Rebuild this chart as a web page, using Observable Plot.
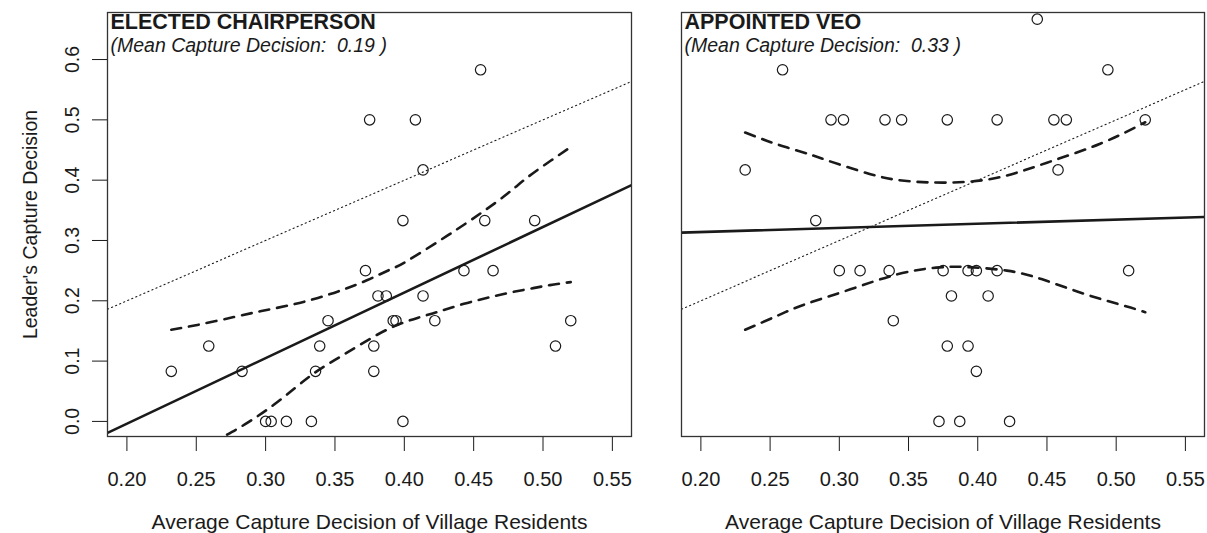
<!DOCTYPE html>
<html>
<head>
<meta charset="utf-8">
<script src="https://cdn.jsdelivr.net/npm/d3@7"></script>
<script src="https://cdn.jsdelivr.net/npm/@observablehq/plot@0.6"></script>
<style>
  html, body { margin: 0; padding: 0; background: white; }
  #wrap { display: flex; flex-direction: row; width: 1207px; height: 533px; }
</style>
</head>
<body>
<div id="wrap"></div>
<script>
// ---- tick labels ----
const xTicks = [0.20, 0.25, 0.30, 0.35, 0.40, 0.45, 0.50, 0.55];
const yTicks = [0.0, 0.1, 0.2, 0.3, 0.4, 0.5, 0.6];

// ---- panel titles ----
const titles = ["ELECTED CHAIRPERSON", "APPOINTED VEO"];
const meanLabels = ["0.19", "0.33"];

// ---- Elected chairperson: points ----
const chairX = [0.232, 0.259, 0.283, 0.300, 0.304, 0.315, 0.333, 0.336, 0.339, 0.345, 0.372, 0.375, 0.378, 0.378, 0.381, 0.387, 0.392, 0.394, 0.399, 0.399, 0.408, 0.4135, 0.4135, 0.422, 0.443, 0.455, 0.458, 0.464, 0.494, 0.509, 0.520];
const chairY = [0.083, 0.125, 0.083, 0.000, 0.000, 0.000, 0.000, 0.083, 0.125, 0.167, 0.250, 0.500, 0.125, 0.083, 0.208, 0.208, 0.167, 0.167, 0.333, 0.000, 0.500, 0.417, 0.208, 0.167, 0.250, 0.583, 0.333, 0.250, 0.333, 0.125, 0.167];

// fitted line (read at the frame edges)
const chairFitX = [0.186, 0.564];
const chairFitY = [-0.019, 0.392];
// confidence bands
const chairUpX = [0.232, 0.253, 0.277, 0.297, 0.316, 0.335, 0.354, 0.373, 0.390, 0.402, 0.431, 0.455, 0.474, 0.489, 0.506, 0.520];
const chairUpY = [0.152, 0.161, 0.173, 0.183, 0.192, 0.203, 0.217, 0.234, 0.252, 0.266, 0.308, 0.345, 0.377, 0.405, 0.433, 0.455];
const chairLoX = [0.262, 0.270, 0.285, 0.309, 0.332, 0.350, 0.368, 0.390, 0.410, 0.426, 0.443, 0.460, 0.477, 0.493, 0.505, 0.520];
const chairLoY = [-0.040, -0.025, -0.005, 0.033, 0.075, 0.102, 0.127, 0.155, 0.172, 0.183, 0.195, 0.205, 0.214, 0.221, 0.226, 0.231];

// ---- Appointed VEO: points ----
const veoX = [0.232, 0.259, 0.283, 0.294, 0.303, 0.300, 0.315, 0.333, 0.336, 0.339, 0.345, 0.372, 0.375, 0.378, 0.378, 0.381, 0.387, 0.393, 0.393, 0.399, 0.399, 0.4075, 0.414, 0.414, 0.423, 0.443, 0.455, 0.458, 0.464, 0.494, 0.509, 0.521];
const veoY = [0.417, 0.583, 0.333, 0.500, 0.500, 0.250, 0.250, 0.500, 0.250, 0.167, 0.500, 0.000, 0.250, 0.500, 0.125, 0.208, 0.000, 0.250, 0.125, 0.250, 0.083, 0.208, 0.500, 0.250, 0.000, 0.667, 0.500, 0.417, 0.500, 0.583, 0.250, 0.500];

const veoFitX = [0.186, 0.564];
const veoFitY = [0.313, 0.339];
const veoUpX = [0.232, 0.248, 0.2625, 0.277, 0.291, 0.3225, 0.347, 0.378, 0.414, 0.450, 0.488, 0.521];
const veoUpY = [0.479, 0.465, 0.454, 0.444, 0.433, 0.410, 0.399, 0.396, 0.404, 0.429, 0.460, 0.496];
const veoLoX = [0.232, 0.255, 0.275, 0.308, 0.342, 0.370, 0.392, 0.421, 0.446, 0.479, 0.507, 0.521];
const veoLoY = [0.152, 0.175, 0.194, 0.219, 0.244, 0.255, 0.256, 0.250, 0.236, 0.210, 0.191, 0.181];

// 45-degree reference line
const diagX = [0.186, 0.564];
const diagY = [0.186, 0.564];

const xDomain = [0.186, 0.5638];
const yDomain = [-0.025, 0.678];
const FONT = "'Liberation Sans', Arial, Helvetica, sans-serif";
const INK = "#1a1a1a";

const zip = (xs, ys) => xs.map((x, i) => ({x, y: ys[i]}));

function panel({width, marginLeft, marginRight, title, mean, px, py, fitX, fitY, upX, upY, loX, loY, showY}) {
  const marks = [
    Plot.line(zip(diagX, diagY), {x: "x", y: "y", stroke: INK, strokeWidth: 1.1, strokeDasharray: "1.2,3.2", clip: true}),
    Plot.line(zip(fitX, fitY), {x: "x", y: "y", stroke: INK, strokeWidth: 2.6, clip: true}),
    Plot.line(zip(upX, upY), {x: "x", y: "y", stroke: INK, strokeWidth: 2.6, strokeDasharray: "10,8", curve: "natural", clip: true}),
    Plot.line(zip(loX, loY), {x: "x", y: "y", stroke: INK, strokeWidth: 2.6, strokeDasharray: "10,8", curve: "natural", clip: true}),
    Plot.dot(zip(px, py), {x: "x", y: "y", r: 5.2, stroke: INK, strokeWidth: 1.2, fill: "none"}),
    Plot.axisX(xTicks, {tickFormat: d => d.toFixed(2), tickSize: 15, tickPadding: 20, fontSize: 20, label: null, stroke: INK, fill: INK}),
    Plot.text([title], {frameAnchor: "top-left", dx: 3, dy: 1.5, lineAnchor: "top", textAnchor: "start", fontWeight: "bold", fontSize: 21.5, fill: INK}),
    Plot.text(["(Mean Capture Decision:\u00a0 " + mean + " )"], {frameAnchor: "top-left", dx: 3, dy: 25.5, lineAnchor: "top", textAnchor: "start", fontStyle: "italic", fontSize: 19.5, fill: INK}),
    Plot.text(["Average Capture Decision of Village Residents"], {frameAnchor: "bottom", dy: 92, fontSize: 21, textAnchor: "middle", fill: INK}),
    Plot.frame({stroke: "#333", strokeWidth: 1.3})
  ];
  if (showY) {
    marks.push(
      Plot.axisY(yTicks, {tickSize: 15, tickFormat: () => "", label: null, stroke: INK}),
      Plot.text(yTicks, {y: d => d, text: d => d.toFixed(1), frameAnchor: "left", dx: -35, rotate: -90, textAnchor: "middle", fontSize: 19.5, fill: INK}),
      Plot.text(["Leader's Capture Decision"], {frameAnchor: "left", dx: -77, rotate: -90, textAnchor: "middle", fontSize: 19.5, fill: INK})
    );
  }
  return Plot.plot({
    width, height: 533,
    marginTop: 12, marginBottom: 97, marginLeft, marginRight,
    x: {domain: xDomain, axis: null},
    y: {domain: yDomain, axis: null},
    style: {fontFamily: FONT, fontSize: "17px", color: INK, background: "white", overflow: "visible"},
    marks
  });
}

const wrap = document.getElementById("wrap");
wrap.appendChild(panel({width: 656, marginLeft: 107, marginRight: 25, title: titles[0], mean: meanLabels[0],
  px: chairX, py: chairY, fitX: chairFitX, fitY: chairFitY, upX: chairUpX, upY: chairUpY, loX: chairLoX, loY: chairLoY, showY: true}));
wrap.appendChild(panel({width: 551, marginLeft: 25, marginRight: 3, title: titles[1], mean: meanLabels[1],
  px: veoX, py: veoY, fitX: veoFitX, fitY: veoFitY, upX: veoUpX, upY: veoUpY, loX: veoLoX, loY: veoLoY, showY: false}));
</script>
</body>
</html>
